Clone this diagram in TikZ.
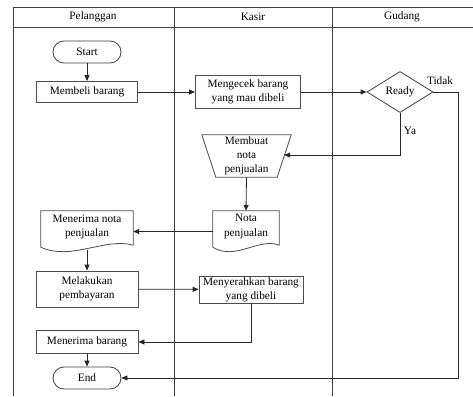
\documentclass[tikz,border=0pt]{standalone}
\usepackage{fontspec}
\setmainfont{Liberation Serif}
\usetikzlibrary{arrows.meta,shapes.geometric,calc}
\begin{document}
\begin{tikzpicture}[x=1pt,y=1pt,
  font=\fontsize{11.3}{14}\selectfont,
  frame/.style={draw=black!75,line width=0.8pt},
  proc/.style={draw=black!70,line width=0.8pt,rectangle,align=center,inner sep=1pt},
  term/.style={draw=black!75,line width=0.8pt,rectangle,rounded corners=11pt,minimum width=68pt,minimum height=22pt,inner sep=1pt},
  decis/.style={draw=black!75,line width=0.8pt,diamond,minimum width=66pt,minimum height=41pt,aspect=1.6,inner sep=0pt},
  ghost/.style={rectangle,align=center,inner sep=1pt},
  shapeline/.style={draw=black!70,line width=0.8pt},
  conn/.style={draw=black!85,line width=0.8pt,-{Triangle[length=6pt,width=5pt]}},
  plainconn/.style={draw=black!85,line width=0.8pt}]
\useasboundingbox (0,0) rectangle (473,-396);
% swimlanes
\draw[frame] (13,-396) -- (13,-7) -- (473,-7);
\draw[frame] (13,-27) -- (473,-27);
\draw[frame] (174,-7) -- (174,-396);
\draw[frame] (332,-7) -- (332,-396);
\node (h1) at (93,-17) {Pelanggan};
\node (h2) at (253,-17) {Kasir};
\node (h3) at (402,-17) {Gudang};
% nodes
\node[term] (start) at (87,-52) {Start};
\node[proc,minimum width=101pt,minimum height=21pt] (mb) at (87,-92) {Membeli barang};
\node[proc,minimum width=105pt,minimum height=33pt] (mc) at (248,-92) {Mengecek barang\\yang mau dibeli};
\node[decis] (rd) at (400,-92) {Ready};
\node (tidak) at (440,-81) {Tidak};
\node (ya) at (410,-131) {Ya};
% manual operation
\node[ghost,minimum width=89pt,minimum height=42pt] (mn) at (246.5,-156) {Membuat\\nota\\penjualan};
\draw[shapeline] (mn.north west) -- (mn.north east) -- ($(mn.south east)+(-14,0)$) -- ($(mn.south west)+(14,0)$) -- cycle;
% documents
\node[ghost,minimum width=66pt,minimum height=31pt] (np) at (246,-226.5) {Nota\\penjualan};
\draw[shapeline] ([yshift=-5pt]np.south west) -- (np.north west) -- (np.north east) -- ([yshift=-3pt]np.south east)
  .. controls +(-20pt,8pt) and +(22pt,-14pt) .. ([yshift=-5pt]np.south west);
\node[ghost,minimum width=92pt,minimum height=31pt] (mnt) at (87,-226.5) {Menerima nota\\penjualan};
\draw[shapeline] ([yshift=-5pt]mnt.south west) -- (mnt.north west) -- (mnt.north east) -- ([yshift=-3pt]mnt.south east)
  .. controls +(-28pt,8pt) and +(30pt,-14pt) .. ([yshift=-5pt]mnt.south west);
\node[proc,minimum width=102pt,minimum height=36pt] (mp) at (87,-289) {Melakukan\\pembayaran};
\node[proc,minimum width=104pt,minimum height=27pt] (ms) at (251,-289.5) {Menyerahkan barang\\yang dibeli};
\node[proc,minimum width=102pt,minimum height=23pt] (mbr) at (87,-342) {Menerima barang};
\node[term] (end) at (87,-378) {End};
% connectors
\draw[conn] (start) -- (mb);
\draw[conn] (mb) -- (mc);
\draw[conn] (mc) -- (rd);
\draw[conn] (rd.south) |- ($(mn.east)+(-7,1)$);
\draw[conn] (rd.east) -| (458,-378) -- (end.east);
\draw[conn] (mn.south) -- (np.north);
\draw[conn] ([yshift=-5pt]np.west) -- ([yshift=-5pt]mnt.east);
\draw[conn] ([yshift=-8pt]mnt.south) -- (mp.north);
\draw[conn] (mp) -- (ms);
\draw[conn] (ms.south) |- (mbr.east);
\draw[conn] (mbr) -- (end);
\end{tikzpicture}
\end{document}
